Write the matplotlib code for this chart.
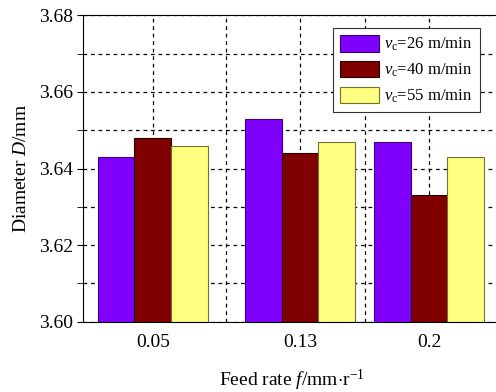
import matplotlib
matplotlib.use("Agg")
import matplotlib.pyplot as plt
import numpy as np

plt.rcParams['font.family'] = 'Liberation Serif'
plt.rcParams['mathtext.fontset'] = 'custom'
plt.rcParams['mathtext.rm'] = 'Liberation Serif'
plt.rcParams['mathtext.it'] = 'Liberation Serif:italic'

# data
feed = [0.05, 0.13, 0.2]
vc26 = [3.643, 3.653, 3.647]
vc40 = [3.648, 3.644, 3.633]
vc55 = [3.646, 3.647, 3.643]
labels = [r'$v_{\mathrm{c}}$=26 m/min', r'$v_{\mathrm{c}}$=40 m/min', r'$v_{\mathrm{c}}$=55 m/min']
colors = ['#8000ff', '#800000', '#ffff80']
edges = ['#3a0070', '#200000', '#707030']

fig = plt.figure(figsize=(4.96, 3.92), dpi=100)
# axes run slightly past the right edge of the picture, as in the reference
ax = fig.add_axes([0.168, 0.1793, 0.842, 0.7817])

w = 0.02
x = np.array(feed)
for i, (vals, c, e, lab) in enumerate(zip([vc26, vc40, vc55], colors, edges, labels)):
    ax.bar(x + (i - 1) * w, np.array(vals) - 3.60, width=w, bottom=3.60,
           color=c, edgecolor=e, linewidth=0.8, label=lab, zorder=2)

ax.set_xlim(0.0123, 0.2391)
ax.set_ylim(3.60, 3.68)
ax.set_xticks(feed)
ax.set_xticklabels(['0.05', '0.13', '0.2'])
ax.set_xticks([0.09, 0.165], minor=True)
ax.set_yticks(np.arange(3.60, 3.681, 0.02))
ax.set_yticks(np.arange(3.61, 3.68, 0.02), minor=True)
ax.yaxis.set_major_formatter(matplotlib.ticker.FormatStrFormatter('%.2f'))
ax.grid(True, which='both', linestyle=(0, (3, 3)), color='black', linewidth=0.9, zorder=0)
ax.set_axisbelow(True)
ax.tick_params(axis='both', which='both', labelsize=14, direction='out', length=4)
ax.tick_params(axis='x', which='both', length=0, pad=9)

ax.set_ylabel(r'Diameter $D$/mm', fontsize=14, labelpad=6)
ax.set_xlabel(r'Feed rate $f$/mm$\cdot$r$^{\mathrm{-1}}$', fontsize=14, labelpad=12)

leg = ax.legend(loc='upper left', bbox_to_anchor=(0.597, 0.96), fontsize=12,
                frameon=True, fancybox=False, framealpha=1, edgecolor='#333333',
                handlelength=2.35, handleheight=1.15, labelspacing=0.45,
                borderpad=0.45, handletextpad=0.3, borderaxespad=0)
leg.get_frame().set_linewidth(0.8)

fig.savefig('out.png', dpi=100)
